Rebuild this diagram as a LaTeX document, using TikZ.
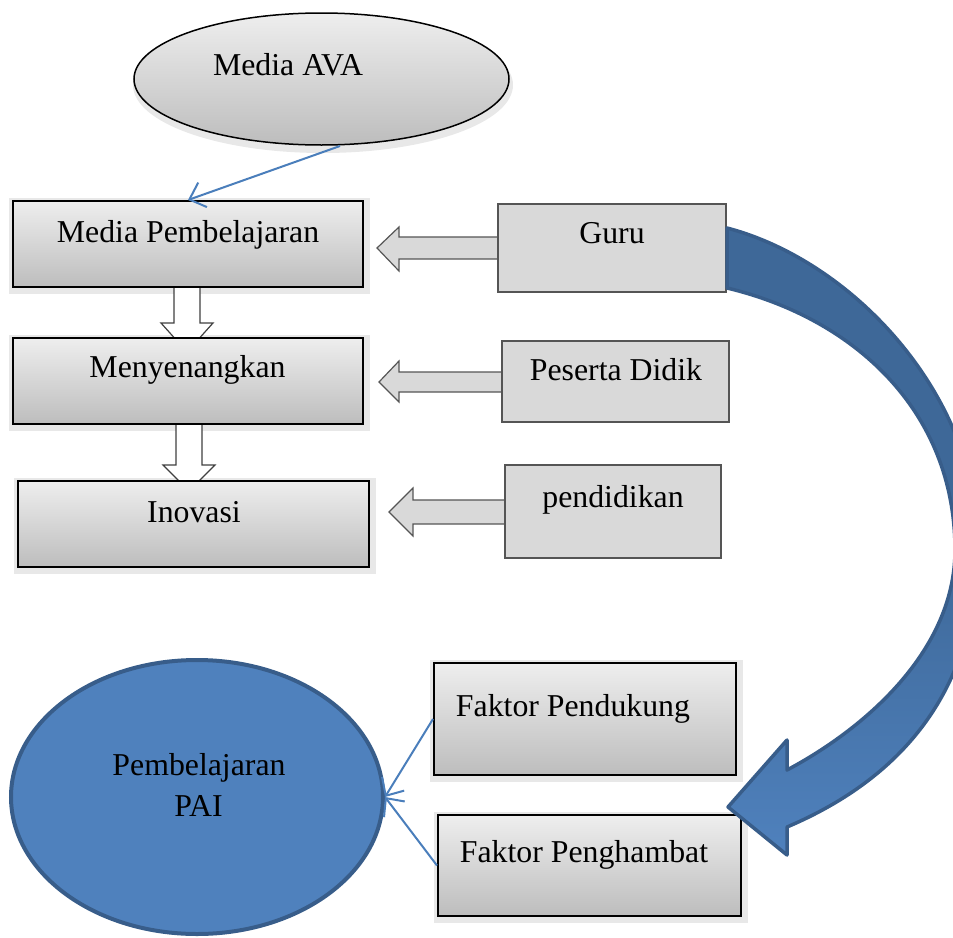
\documentclass[tikz,border=0pt]{standalone}
\usepackage{fontspec}
\setmainfont{Liberation Serif}
\usetikzlibrary{arrows.meta,shapes.geometric}
\definecolor{blueln}{HTML}{4A7EBB}
\definecolor{paifill}{HTML}{4F81BD}
\definecolor{paiedge}{HTML}{385D8A}
\definecolor{arrtop}{HTML}{3E6898}
\definecolor{grayfill}{HTML}{D9D9D9}
\definecolor{grayedge}{HTML}{555555}
\definecolor{gradtop}{HTML}{EEEEEE}
\definecolor{gradbot}{HTML}{BDBDBD}
\begin{document}
\begin{tikzpicture}[x=1pt,y=-1pt,
  lbl/.style={font=\fontsize{31.8}{38}\selectfont, inner sep=0pt, anchor=base},
  gradbox/.style={rectangle, inner sep=0pt, draw=black, line width=2pt, top color=gradtop, bottom color=gradbot},
  flatbox/.style={rectangle, inner sep=0pt, draw=grayedge, line width=1.2pt, fill=grayfill},
  blockarrow/.style={draw=grayedge, line width=1.2pt, fill=grayfill, line join=miter},
  downarrow/.style={draw=black!75, line width=1.2pt, fill=white},
  shadowbox/.style={fill=black!9},
  blueconn/.style={draw=blueln, line width=2pt, -{Straight Barb[length=14pt,width=26pt]}},
]
\useasboundingbox (0,0) rectangle (953,937);
\clip (0,0) rectangle (953,937);

% shadows
\fill[shadowbox] (323,85) ellipse [x radius=190, y radius=68];
\fill[shadowbox] (9,198) rectangle (370,294);
\fill[shadowbox] (9,335) rectangle (370,431);
\fill[shadowbox] (14,478) rectangle (376,574);
\fill[shadowbox] (430,660) rectangle (743,782);
\fill[shadowbox] (434,812) rectangle (748,923);

% down block arrows
\path[downarrow] (174,280) -- (200,280) -- (200,323) -- (213,323) -- (187,352) -- (161,323) -- (174,323) -- cycle;
\path[downarrow] (176,420) -- (202,420) -- (202,465) -- (215,465) -- (189,491) -- (163,465) -- (176,465) -- cycle;

% left block arrows
\path[blockarrow] (377,248) -- (399,227) -- (399,237) -- (500,237) -- (500,259) -- (399,259) -- (399,271) -- cycle;
\path[blockarrow] (379,382) -- (399,361) -- (399,372) -- (504,372) -- (504,392) -- (399,392) -- (399,402) -- cycle;
\path[blockarrow] (389,512) -- (413,488) -- (413,500) -- (507,500) -- (507,524) -- (413,524) -- (413,536) -- cycle;

% ellipse Media AVA
\node[ellipse, inner sep=0pt, minimum width=375pt, minimum height=132pt, draw=black, line width=1.5pt, top color=gradtop, bottom color=gradbot] (ava) at (321.5,79) {};
\node[lbl] (avat) at (288,75) {Media AVA};

% gradient boxes
\node[gradbox, minimum width=350pt, minimum height=86pt] (mp) at (188,244) {};
\node[lbl] (mpt) at (188,242) {Media Pembelajaran};
\node[gradbox, minimum width=350pt, minimum height=86pt] (men) at (188,381) {};
\node[lbl] (ment) at (187.5,377) {Menyenangkan};
\node[gradbox, minimum width=351pt, minimum height=86pt] (ino) at (193.5,524) {};
\node[lbl] (inot) at (194,522) {Inovasi};

% flat boxes
\node[flatbox, minimum width=228pt, minimum height=88pt] (guru) at (612,248) {};
\node[lbl] (gurut) at (612,243) {Guru};
\node[flatbox, minimum width=227pt, minimum height=81pt] (pd) at (615.5,381.5) {};
\node[lbl] (pdt) at (616,380) {Peserta Didik};
\node[flatbox, minimum width=216pt, minimum height=93pt] (pend) at (613,511.5) {};
\node[lbl] (pendt) at (613,507) {pendidikan};

% factor boxes
\node[gradbox, minimum width=302pt, minimum height=112pt] (fp) at (585,719) {};
\node[lbl] (fpt) at (573,716) {Faktor Pendukung};
\node[gradbox, minimum width=303pt, minimum height=101pt] (fh) at (589.5,865.5) {};
\node[lbl] (fht) at (584,862) {Faktor Penghambat};

% PAI ellipse
\node[ellipse, inner sep=0pt, minimum width=372pt, minimum height=274pt, draw=paiedge, line width=4pt, fill=paifill] (pai) at (197,797) {};
\node[lbl] (pait1) at (199,775) {Pembelajaran};
\node[lbl] (pait2) at (198.5,816) {PAI};

% blue connectors
\coordinate (avaout) at (340,146);
\draw[blueconn] (avaout) -- (mp.north);
\draw[blueconn] (fp.west) -- (pai.east);
\draw[blueconn] (fh.west) -- (pai.east);

% big curved arrow
\path[draw=paiedge, line width=3.5pt, line join=round, top color=arrtop, bottom color=paifill, middle color=arrtop]
  (727,228) .. controls (853,261) and (978,395) .. (978,545)
  .. controls (978,685) and (907,776) .. (787,827)
  -- (787,855) -- (728,807) -- (787,740) -- (787,770)
  .. controls (866,728) and (955,650) .. (955,550)
  .. controls (955,410) and (853,318) .. (727,288) -- cycle;
\end{tikzpicture}
\end{document}
